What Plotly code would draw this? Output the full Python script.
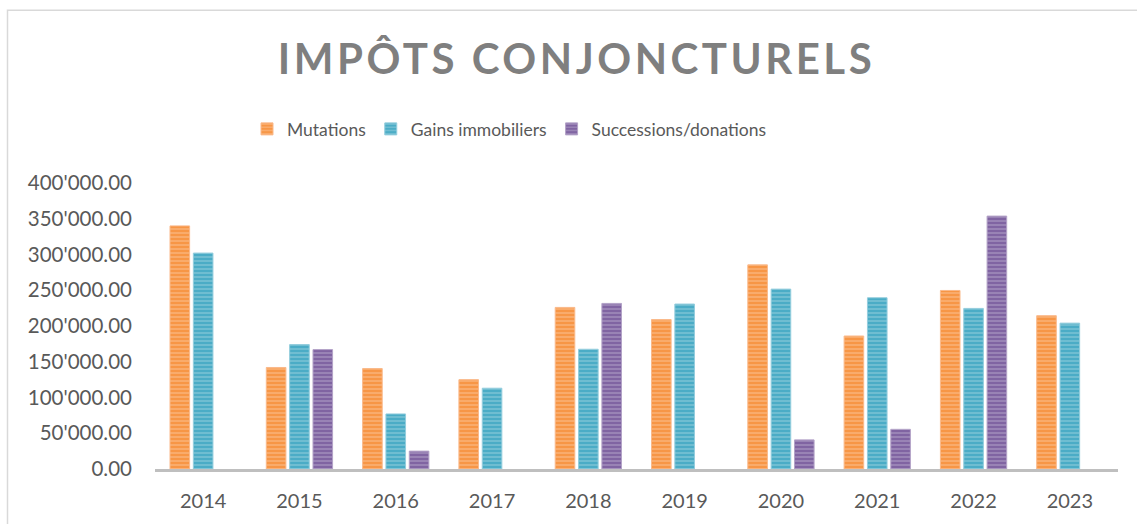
import plotly.graph_objects as go

years = ["2014", "2015", "2016", "2017", "2018", "2019", "2020", "2021", "2022", "2023"]
mutations = [340000, 142000, 140500, 125000, 226000, 209000, 285500, 186000, 249700, 214400]
gains = [302000, 174000, 77000, 113000, 167500, 230700, 251600, 239500, 224600, 204000]
successions = [None, 167000, 25000, None, 231600, None, 40700, 55500, 353700, None]
series_names = ["Mutations", "Gains immobiliers", "Successions/donations"]
colors = ["#F79646", "#4BACC6", "#8064A2"]
edge_colors = ["#FAB98A", "#93CDDD", "#B3A2C7"]

W, H = 1137, 524
L, R = 155, 1118
TOP, BOT = 182.7, 469.5

fig = go.Figure()
for name, vals, c, ec in zip(series_names, [mutations, gains, successions], colors, edge_colors):
    fig.add_trace(go.Bar(
        x=years, y=vals, name=name,
        marker=dict(color=c, line=dict(color=ec, width=1),
                    pattern=dict(shape="-", fillmode="overlay", fgcolor="rgba(255,255,255,0.5)",
                                 size=4, solidity=0.4)),
    ))

def px_x(p):
    return (p - L) / (R - L)

def px_y(p):
    return (BOT - p) / (BOT - TOP)

fig.update_layout(
    width=W, height=H,
    margin=dict(l=L, r=W - R, t=TOP, b=H - BOT, pad=0),
    paper_bgcolor="white", plot_bgcolor="white",
    barmode="group", bargap=0.273, bargroupgap=0.16,
    separators=".'",
    font=dict(family="Lato", color="#595959", size=20),
    title=dict(text="IMPÔTS CONJONCTURELS", x=576.5 / W, xref="container", xanchor="center",
               y=1 - 59 / H, yref="container", yanchor="middle",
               font=dict(family="Lato", size=42, weight="bold", color="#7F7F7F")),
    legend=dict(orientation="h", xref="container", yref="container",
                x=247 / W, xanchor="left", y=1 - 129 / H, yanchor="middle",
                font=dict(family="Lato", size=17.5, color="#595959"),
                itemwidth=30, traceorder="normal"),
    showlegend=True,
    xaxis=dict(showline=True, linecolor="#BFBFBF", linewidth=3, showgrid=False, zeroline=False,
               ticks="", ticklabelstandoff=12, tickfont=dict(size=20, color="#595959")),
    yaxis=dict(range=[0, 400000], tickvals=[0, 50000, 100000, 150000, 200000, 250000, 300000, 350000, 400000],
               tickformat=",.2f", showline=False, showgrid=False, zeroline=False,
               ticks="", ticklabelstandoff=22, tickfont=dict(size=20.5, color="#595959")),
    shapes=[dict(type="rect", xref="paper", yref="paper",
                 x0=px_x(7.5), x1=px_x(1200), y0=px_y(600), y1=px_y(9.5),
                 line=dict(color="#D9D9D9", width=1.5), fillcolor="rgba(0,0,0,0)", layer="below")],
)

fig.write_html(
    "out.html",
    config={"displayModeBar": False},
    post_script=(
        "document.documentElement.style.margin='0';document.body.style.margin='0';"
        "document.body.style.overflow='hidden';"
        "document.querySelectorAll('.gtitle').forEach(function(e){e.style.letterSpacing='3.5px';});"
    ),
)
